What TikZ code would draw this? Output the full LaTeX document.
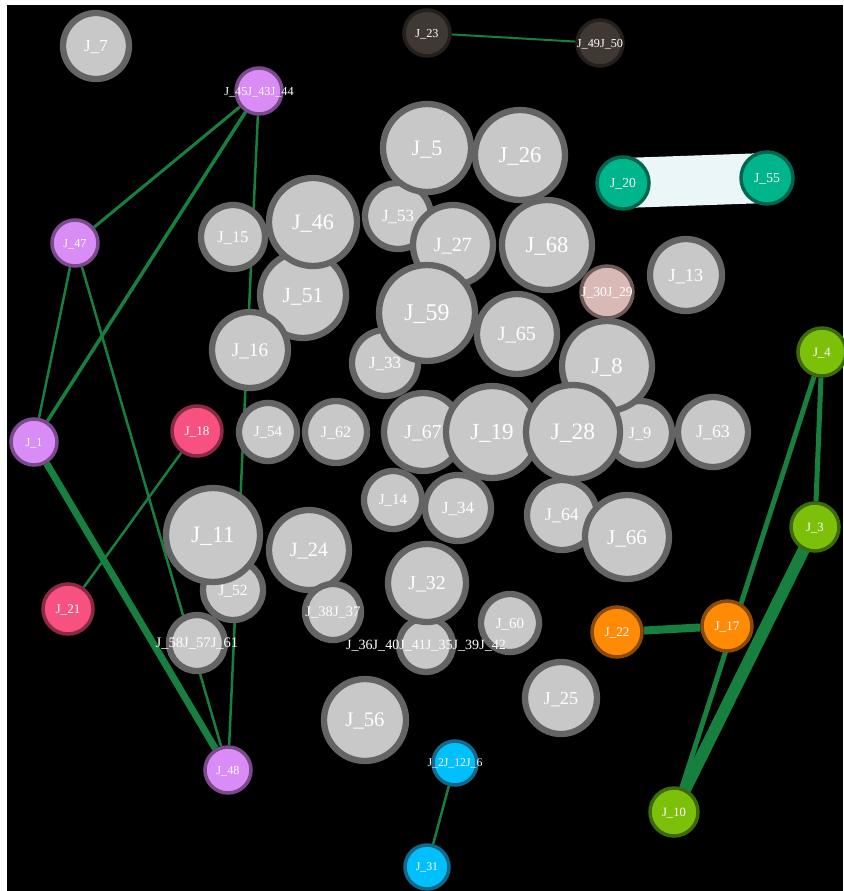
\documentclass[tikz,border=0pt]{standalone}
\usepackage{fontspec}
\setmainfont{Liberation Serif}
\usetikzlibrary{backgrounds}
\definecolor{canvasblack}{HTML}{000000}
\definecolor{jobfill}{HTML}{C8C8C8}
\definecolor{jobedge}{HTML}{646464}
\definecolor{linkgreen}{HTML}{17803F}
\definecolor{bandwhite}{HTML}{EAF6F8}
\definecolor{lilacfill}{HTML}{D98CF5}
\definecolor{lilacedge}{HTML}{7A4A8C}
\definecolor{rosefill}{HTML}{F7517F}
\definecolor{roseedge}{HTML}{8C2A46}
\definecolor{blushfill}{HTML}{D8B9B5}
\definecolor{blushedge}{HTML}{6E5B58}
\definecolor{skyfill}{HTML}{00BFFB}
\definecolor{skyedge}{HTML}{15688A}
\definecolor{amberfill}{HTML}{FF8A05}
\definecolor{amberedge}{HTML}{8A4A08}
\definecolor{limefill}{HTML}{7DC00A}
\definecolor{limeedge}{HTML}{3D6A0A}
\definecolor{tealfill}{HTML}{00B48C}
\definecolor{tealedge}{HTML}{00664D}
\definecolor{umberfill}{HTML}{3F3833}
\definecolor{umberedge}{HTML}{25201C}
\newcommand\jl[1]{\makebox[0pt]{#1}}

\begin{document}
\begin{tikzpicture}[x=1pt,y=-1pt,
      job/.style={circle,inner sep=0pt,text=white,minimum size={2*#1-6},text depth=0pt,
        font={\pgfmathsetmacro\jfs{0.47*#1}\fontsize{\jfs}{\jfs}\selectfont}},
      jobgray/.style={draw=jobedge,fill=jobfill,line width=6.3pt},
      jobcol/.style={draw=#1edge,fill=#1fill,line width=3.5pt},
      link/.style={linkgreen,line width=#1}]
    \useasboundingbox (0,0) rectangle (843,891);

    % grey jobs
    \node[job=36,jobgray](j7) at (96,46) {J\_7};
    \node[job=35,jobgray](j15) at (233,237) {J\_15};
    \node[job=46,jobgray](j51) at (303,295) {J\_51};
    \node[job=41,jobgray](j16) at (250,350) {J\_16};
    \node[job=47,jobgray](j46) at (313,222) {J\_46};
    \node[job=36,jobgray](j53) at (398,216) {J\_53};
    \node[job=48,jobgray](j26) at (520,155) {J\_26};
    \node[job=47,jobgray](j5) at (427,148) {J\_5};
    \node[job=43,jobgray](j27) at (453,245) {J\_27};
    \node[job=48,jobgray](j68) at (547,245) {J\_68};
    \node[job=36,jobgray](j33) at (385,363) {J\_33};
    \node[job=43,jobgray](j65) at (517,334) {J\_65};
    \node[job=51,jobgray](j59) at (427,313) {J\_59};
    \node[job=39,jobgray](j13) at (686,275) {J\_13};
    \node[job=29,jobcol=blush](j30) at (607,292) {\jl{J\_30J\_29}};
    \node[job=35,jobgray](j9) at (640,433) {J\_9};
    \node[job=48,jobgray](j8) at (607,366) {J\_8};
    \node[job=38,jobgray](j63) at (713,432) {J\_63};
    \node[job=32,jobgray](j54) at (268,432) {J\_54};
    \node[job=34,jobgray](j62) at (336,432) {J\_62};
    \node[job=42,jobgray](j67) at (423,432) {J\_67};
    \node[job=49,jobgray](j19) at (492,432) {J\_19};
    \node[job=50,jobgray](j28) at (573,432) {J\_28};
    \node[job=32,jobgray](j14) at (393,500) {J\_14};
    \node[job=36,jobgray](j34) at (458,508) {J\_34};
    \node[job=38,jobgray](j64) at (562,515) {J\_64};
    \node[job=45,jobgray](j66) at (627,537) {J\_66};
    \node[job=33,jobgray](j52) at (233,590) {J\_52};
    \node[job=50,jobgray](j11) at (213,535) {J\_11};
    \node[job=43,jobgray](j24) at (309,550) {J\_24};
    \node[job=31,jobgray](j38) at (333,612) {\jl{J\_38J\_37}};
    \node[job=31,jobgray](j58) at (197,643) {\jl{J\_58J\_57J\_61}};
    \node[job=30,jobgray](j36) at (426,645) {};
    \node[job=42,jobgray](j32) at (427,583) {J\_32};
    \node[job=32,jobgray](j60) at (510,623) {J\_60};
    \node[job=30,text=white](j36t) at (426,645) {\jl{J\_36J\_40J\_41J\_35J\_39J\_42}};
    \node[job=44,jobgray](j56) at (365,720) {J\_56};
    \node[job=39,jobgray](j25) at (561,698) {J\_25};

    % coloured jobs
    \node[job=26,jobcol=umber](j23) at (427,33) {J\_23};
    \node[job=26,jobcol=umber](j49) at (600,43) {\jl{J\_49J\_50}};
    \node[job=26,jobcol=lilac](j45) at (259,91) {\jl{J\_45J\_43J\_44}};
    \node[job=26,jobcol=lilac](j47) at (75,243) {J\_47};
    \node[job=26,jobcol=lilac](j1) at (34,442) {J\_1};
    \node[job=26,jobcol=lilac](j48) at (228,770) {J\_48};
    \node[job=28,jobcol=rose](j18) at (197,431) {J\_18};
    \node[job=28,jobcol=rose](j21) at (68,609) {J\_21};
    \node[job=29,jobcol=teal](j20) at (623,183) {J\_20};
    \node[job=29,jobcol=teal](j55) at (767,178) {J\_55};
    \node[job=27,jobcol=lime](j4) at (822,352) {J\_4};
    \node[job=27,jobcol=lime](j3) at (815,527) {J\_3};
    \node[job=27,jobcol=lime](j10) at (674,812) {J\_10};
    \node[job=28,jobcol=amber](j22) at (617,632) {J\_22};
    \node[job=28,jobcol=amber](j17) at (727,626) {J\_17};
    \node[job=25,jobcol=sky](j2) at (455,763) {\jl{J\_2J\_12J\_6}};
    \node[job=25,jobcol=sky](j31) at (427,867) {J\_31};

    % links behind the jobs
    \begin{pgfonlayer}{background}
      \fill[white] (0,0) rectangle (843,891);
      \fill[canvasblack] (7,5) rectangle (843,891);
      \draw[bandwhite,line width=50pt] (j20.center) -- (j55.center);
      \draw[link=2pt] (j23) -- (j49);
      \draw[link=3pt] (j45) -- (j47);
      \draw[link=3.5pt] (j45) -- (j1);
      \draw[link=2.5pt] (j45) -- (j48);
      \draw[link=2.5pt] (j47) -- (j1);
      \draw[link=2.5pt] (j47) -- (j48);
      \draw[link=7pt] (j1) -- (j48);
      \draw[link=2.5pt] (j18) -- (j21);
      \draw[link=5pt] (j4) -- (j3);
      \draw[link=5pt] (j4) -- (j10);
      \draw[link=12pt] (j3.center) -- (j10.center);
      \draw[link=8pt] (j22) -- (j17);
      \draw[link=2.5pt] (j2) -- (j31);
    \end{pgfonlayer}
  \end{tikzpicture}
\end{document}
